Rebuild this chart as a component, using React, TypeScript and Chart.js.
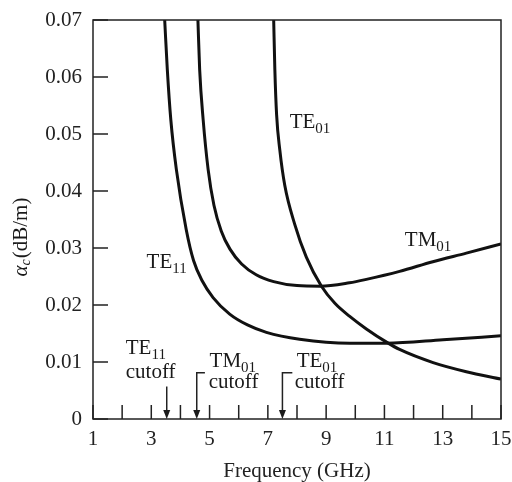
import { useEffect, useRef } from "react";
import { Chart, registerables } from "chart.js";
Chart.register(...registerables);

// Frequency (GHz) and attenuation (dB/m)
const freqTE11 = [3.46, 3.55, 3.67, 3.86, 4.2, 4.45, 4.75, 5.12, 5.69, 6.3, 6.95, 8.09, 9.81, 11.07, 13.01, 15.0];
const alphaTE11 = [0.07, 0.0613, 0.0525, 0.0438, 0.0332, 0.0278, 0.0242, 0.0213, 0.0184, 0.0165, 0.0152, 0.014, 0.0133, 0.0133, 0.0139, 0.0146];

const freqTM01 = [4.6, 4.66, 4.78, 4.95, 5.15, 5.4, 5.7, 6.1, 6.6, 7.2, 8.0, 8.8, 9.8, 10.38, 11.52, 12.66, 13.81, 15.0];
const alphaTM01 = [0.07, 0.0613, 0.0525, 0.0438, 0.0375, 0.033, 0.0298, 0.0272, 0.0253, 0.0241, 0.0234, 0.0233, 0.0239, 0.0245, 0.0259, 0.0276, 0.0291, 0.0307];

const freqTE01 = [7.2, 7.24, 7.3, 7.41, 7.58, 7.92, 8.32, 8.84, 9.3, 9.81, 10.38, 11.1, 11.52, 12.67, 13.81, 15.0];
const alphaTE01 = [0.07, 0.0613, 0.0534, 0.0472, 0.041, 0.0342, 0.0284, 0.0233, 0.0203, 0.018, 0.0158, 0.0134, 0.0122, 0.0099, 0.0083, 0.007];

const xTickValues = [1, 3, 5, 7, 9, 11, 13, 15];
const yTickLabels = ["0", "0.01", "0.02", "0.03", "0.04", "0.05", "0.06", "0.07"];

const cutoffFreqs = [3.53, 4.56, 7.5];

const SERIF = '"Liberation Serif", "DejaVu Serif", serif';

function zip(xs: number[], ys: number[]) {
  return xs.map((x, i) => ({ x, y: ys[i] }));
}

function drawSub(ctx: CanvasRenderingContext2D, x: number, y: number, main: string, sub: string) {
  ctx.font = `21px ${SERIF}`;
  ctx.textAlign = "left";
  ctx.textBaseline = "alphabetic";
  ctx.fillText(main, x, y);
  const w = ctx.measureText(main).width;
  ctx.font = `15px ${SERIF}`;
  ctx.fillText(sub, x + w, y + 5);
}

const annotPlugin = {
  id: "annot",
  afterDraw(chart: any) {
    const { ctx, chartArea: a, scales } = chart;
    const xs = scales.x;
    const ys = scales.y;
    const X = (v: number) => xs.getPixelForValue(v);
    const Y = (v: number) => ys.getPixelForValue(v);
    ctx.save();
    ctx.strokeStyle = "#222";
    ctx.fillStyle = "#1a1a1a";
    ctx.lineWidth = 1.5;
    ctx.strokeRect(a.left, a.top, a.right - a.left, a.bottom - a.top);
    ctx.beginPath();
    xs.ticks.forEach((t: any) => {
      const px = X(t.value);
      ctx.moveTo(px, a.bottom);
      ctx.lineTo(px, a.bottom - 14);
    });
    ys.ticks.forEach((t: any) => {
      const py = Y(t.value);
      ctx.moveTo(a.left, py);
      ctx.lineTo(a.left + 15, py);
    });
    ctx.stroke();

    // curve labels
    drawSub(ctx, X(7.75), Y(0.0511), "TE", "01");
    drawSub(ctx, X(11.7), Y(0.0304), "TM", "01");
    drawSub(ctx, X(2.84), Y(0.0265), "TE", "11");

    // cutoff labels
    drawSub(ctx, X(2.125), Y(0.01146), "TE", "11");
    drawSub(ctx, X(5.0), Y(0.00918), "TM", "01");
    drawSub(ctx, X(7.99), Y(0.00918), "TE", "01");
    ctx.font = `21px ${SERIF}`;
    ctx.fillText("cutoff", X(2.125), Y(0.00725));
    ctx.fillText("cutoff", X(4.97), Y(0.0055));
    ctx.fillText("cutoff", X(7.92), Y(0.0055));

    // arrows
    const arrow = (f: number, top: number, bracketTo: number | null) => {
      const px = X(f);
      const yTop = Y(top);
      const yBot = a.bottom;
      ctx.beginPath();
      if (bracketTo !== null) {
        ctx.moveTo(X(bracketTo), yTop);
        ctx.lineTo(px, yTop);
      } else {
        ctx.moveTo(px, yTop);
      }
      ctx.lineTo(px, yBot - 6);
      ctx.stroke();
      ctx.beginPath();
      ctx.moveTo(px, yBot);
      ctx.lineTo(px - 3.5, yBot - 9);
      ctx.lineTo(px + 3.5, yBot - 9);
      ctx.closePath();
      ctx.fill();
    };
    arrow(cutoffFreqs[0], 0.0057, null);
    arrow(cutoffFreqs[1], 0.00812, 4.84);
    arrow(cutoffFreqs[2], 0.00812, 7.84);

    // y-axis title: alpha_c (dB/m)
    ctx.translate(21.5, 237);
    ctx.rotate(-Math.PI / 2);
    ctx.textBaseline = "middle";
    ctx.font = `italic 21px ${SERIF}`;
    const wa = ctx.measureText("\u03b1").width;
    ctx.font = `italic 14px ${SERIF}`;
    const wc = ctx.measureText("c").width;
    ctx.font = `21px ${SERIF}`;
    const wr = ctx.measureText("(dB/m)").width;
    const total = wa + wc + 1 + wr;
    let cx = -total / 2;
    ctx.font = `italic 21px ${SERIF}`;
    ctx.fillText("\u03b1", cx, 0);
    cx += wa;
    ctx.font = `italic 14px ${SERIF}`;
    ctx.fillText("c", cx, 5);
    cx += wc + 1;
    ctx.font = `21px ${SERIF}`;
    ctx.fillText("(dB/m)", cx, 0);
    ctx.restore();
  },
};

export default function App() {
  const ref = useRef<HTMLCanvasElement | null>(null);
  useEffect(() => {
    document.body.style.margin = "0";
    if (!ref.current) return;
    const lineStyle = {
      borderColor: "#111",
      borderWidth: 3,
      pointRadius: 0,
      fill: false,
      cubicInterpolationMode: "monotone" as const,
    };
    const chart = new Chart(ref.current, {
      type: "line",
      data: {
        datasets: [
          { label: "TE11", data: zip(freqTE11, alphaTE11), ...lineStyle },
          { label: "TM01", data: zip(freqTM01, alphaTM01), ...lineStyle },
          { label: "TE01", data: zip(freqTE01, alphaTE01), ...lineStyle },
        ],
      },
      options: {
        animation: false,
        responsive: false,
        events: [],
        layout: { padding: { top: 20, right: 11, left: 0, bottom: 0 } },
        plugins: { legend: { display: false }, tooltip: { enabled: false } },
        scales: {
          x: {
            type: "linear",
            min: 1,
            max: 15,
            afterFit: (s: any) => {
              s.height = 63;
              s.paddingLeft = 0;
              s.paddingRight = 0;
            },
            grid: { display: false, drawTicks: false },
            border: { display: false },
            ticks: {
              stepSize: 1,
              autoSkip: false,
              maxRotation: 0,
              padding: 8,
              color: "#222",
              font: { family: SERIF, size: 21 },
              callback: (v: any) => (xTickValues.includes(Number(v)) ? String(v) : ""),
            },
            title: {
              display: true,
              text: "Frequency (GHz)",
              color: "#222",
              padding: 0,
              font: { family: SERIF, size: 21, lineHeight: 1 },
            },
          },
          y: {
            type: "linear",
            min: 0,
            max: 0.07,
            afterFit: (s: any) => {
              s.width = 93;
              s.paddingTop = 0;
              s.paddingBottom = 0;
            },
            grid: { display: false, drawTicks: false },
            border: { display: false },
            ticks: {
              stepSize: 0.01,
              padding: 11,
              color: "#222",
              font: { family: SERIF, size: 21 },
              callback: (v: any) => yTickLabels[Math.round(Number(v) * 100)] ?? "",
            },
          },
        },
      },
      plugins: [annotPlugin],
    });
    return () => chart.destroy();
  }, []);
  return (
    <div style={{ width: 512, height: 482, background: "#fff" }}>
      <canvas ref={ref} width={512} height={482} style={{ display: "block" }} />
    </div>
  );
}
